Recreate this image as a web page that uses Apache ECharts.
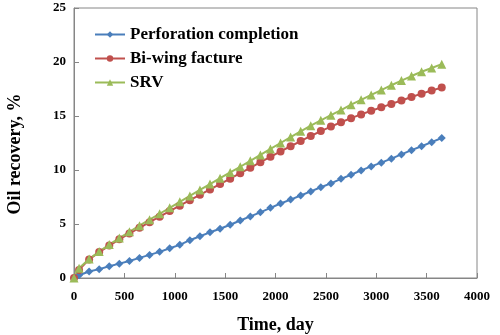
<!DOCTYPE html>
<html>
<head>
<meta charset="utf-8">
<script src="https://cdn.jsdelivr.net/npm/echarts@6/dist/echarts.min.js"></script>
<style>
  html, body { margin: 0; padding: 0; background: #fff; }
  #chart { width: 500px; height: 335px; }
</style>
</head>
<body>
<div id="chart"></div>
<script>
// time, day
const days = [0, 50, 150, 250, 350, 450, 550, 650, 750, 850, 950, 1050, 1150, 1250, 1350, 1450,
  1550, 1650, 1750, 1850, 1950, 2050, 2150, 2250, 2350, 2450, 2550, 2650, 2750, 2850, 2950,
  3050, 3150, 3250, 3350, 3450, 3550, 3650];

// oil recovery, %
const perforation = [0, 0.25, 0.6, 0.82, 1.08, 1.33, 1.58, 1.86, 2.14, 2.42, 2.75, 3.07, 3.5, 3.87,
  4.23, 4.56, 4.93, 5.32, 5.7, 6.08, 6.5, 6.9, 7.26, 7.64, 8.02, 8.4, 8.76, 9.18, 9.56, 9.96,
  10.33, 10.68, 11.05, 11.44, 11.84, 12.2, 12.58, 12.96];
const biwing = [0, 0.75, 1.72, 2.4, 3.0, 3.58, 4.12, 4.65, 5.17, 5.68, 6.2, 6.7, 7.2, 7.7, 8.2,
  8.7, 9.2, 9.7, 10.2, 10.72, 11.22, 11.72, 12.2, 12.68, 13.15, 13.6, 14.02, 14.42, 14.8, 15.15,
  15.48, 15.8, 16.12, 16.44, 16.76, 17.07, 17.36, 17.63];
const srv = [0, 0.9, 1.75, 2.45, 3.1, 3.7, 4.28, 4.84, 5.4, 5.95, 6.5, 7.05, 7.6, 8.15, 8.7, 9.24,
  9.78, 10.3, 10.85, 11.4, 11.95, 12.5, 13.05, 13.58, 14.1, 14.6, 15.08, 15.55, 16.05, 16.5,
  16.95, 17.4, 17.85, 18.28, 18.7, 19.1, 19.45, 19.8];

const names = ['Perforation completion', 'Bi-wing facture', 'SRV'];

const toPairs = (ys) => days.map((d, i) => [d, ys[i]]);

const myChart = echarts.init(document.querySelector('#chart'));
const font = 'Liberation Serif, Times New Roman, serif';
const axisColor = '#868686';

const option = {
  animation: false,
  textStyle: { fontFamily: font },
  grid: {
    left: 74, right: 23, top: 8, bottom: 57,
    outerBoundsMode: 'none',
    show: true, borderColor: axisColor, borderWidth: 1
  },
  legend: {
    data: names,
    orient: 'vertical',
    left: 89,
    top: 21,
    itemWidth: 30,
    itemHeight: 8,
    itemGap: 7,
    textStyle: { fontFamily: font, fontWeight: 'bold', fontSize: 17, color: '#000' }
  },
  xAxis: {
    type: 'value',
    min: 0, max: 4000, interval: 500,
    name: 'Time, day',
    nameLocation: 'middle',
    nameGap: 38,
    nameTextStyle: { fontFamily: font, fontWeight: 'bold', fontSize: 18, color: '#000' },
    axisLine: { lineStyle: { color: axisColor } },
    axisTick: { inside: true, length: 5, lineStyle: { color: axisColor } },
    axisLabel: {
      fontFamily: font, fontWeight: 'bold', fontSize: 13, color: '#000', margin: 12,
      formatter: (v) => String(v)
    },
    splitLine: { show: false }
  },
  yAxis: {
    type: 'value',
    min: 0, max: 25, interval: 5,
    name: 'Oil recovery, %',
    nameLocation: 'middle',
    nameGap: 50,
    nameTextStyle: {
      fontFamily: font, fontWeight: 'bold', fontSize: 18, color: '#000',
      padding: [0, 22, 0, 0]
    },
    axisLine: { show: true, lineStyle: { color: axisColor } },
    axisTick: { show: true, inside: true, length: 5, lineStyle: { color: axisColor } },
    axisLabel: { fontFamily: font, fontWeight: 'bold', fontSize: 13, color: '#000', margin: 8 },
    splitLine: { show: false }
  },
  series: [
    {
      name: names[0], type: 'line', data: toPairs(perforation),
      symbol: 'diamond', symbolSize: 8,
      itemStyle: { color: '#4A7EBB' }, lineStyle: { color: '#4A7EBB', width: 2 }
    },
    {
      name: names[1], type: 'line', data: toPairs(biwing),
      symbol: 'circle', symbolSize: 8,
      itemStyle: { color: '#C0504D' }, lineStyle: { color: '#C0504D', width: 2 }
    },
    {
      name: names[2], type: 'line', data: toPairs(srv),
      symbol: 'triangle', symbolSize: 9,
      itemStyle: { color: '#9BBB59' }, lineStyle: { color: '#9BBB59', width: 2 }
    }
  ]
};

option && myChart.setOption(option);
</script>
</body>
</html>
